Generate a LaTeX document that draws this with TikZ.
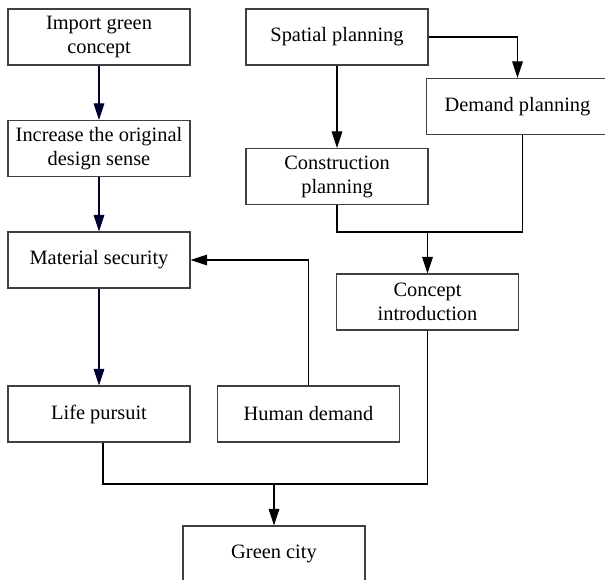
\documentclass[tikz,border=0pt]{standalone}
\usepackage{fontspec}
\setmainfont{Liberation Serif}
\usetikzlibrary{arrows.meta,positioning,calc}

\begin{document}
\begin{tikzpicture}[x=0.75pt,y=-0.75pt,
every node/.style={font=\fontsize{15.3}{18}\selectfont},
box/.style={draw=black!75,line width=0.8pt,minimum width=136.5pt,minimum height=42pt,align=center,inner sep=2pt},
arr/.style={-{Triangle[length=12.5pt,width=8pt]}},
every path/.style={line width=0.8pt}]
\useasboundingbox (0,0) rectangle (605,579);
\node[box] (Imp) at (99,37) {Import green\\concept};
\node[box] (Inc) at (99,148.5) {Increase the original\\design sense};
\node[box] (Mat) at (99,260) {Material security};
\node[box] (Life) at (99,414) {Life pursuit};
\node[box] (Hum) at (308.5,414) {Human demand};
\node[box] (Spa) at (337,37) {Spatial planning};
\node[box] (Dem) at (517.5,106.5) {Demand planning};
\node[box] (Con) at (337,176.5) {Construction\\planning};
\node[box] (Cin) at (427.5,302) {Concept\\introduction};
\node[box] (Grn) at (274,554) {Green city};
\coordinate (J1) at (427.5,232);
\coordinate (J2) at (274,484);
\draw[arr,draw=black!80!blue] (Imp)--(Inc);
\draw[arr,draw=black!80!blue] (Inc)--(Mat);
\draw[arr,draw=black!80!blue] (Mat)--(Life);
\draw[arr] (Hum.north) |- (Mat.east);
\draw[arr] (Spa.east) -| (Dem.north);
\draw[arr] (Spa)--(Con);
\draw (Con.south) |- (J1) -| ([xshift=3.5pt]Dem.south);
\draw[arr] (J1)--(Cin);
\draw ([xshift=3pt]Life.south) |- (J2) -| (Cin.south);
\draw[arr] (J2)--(Grn);
\end{tikzpicture}
\end{document}
